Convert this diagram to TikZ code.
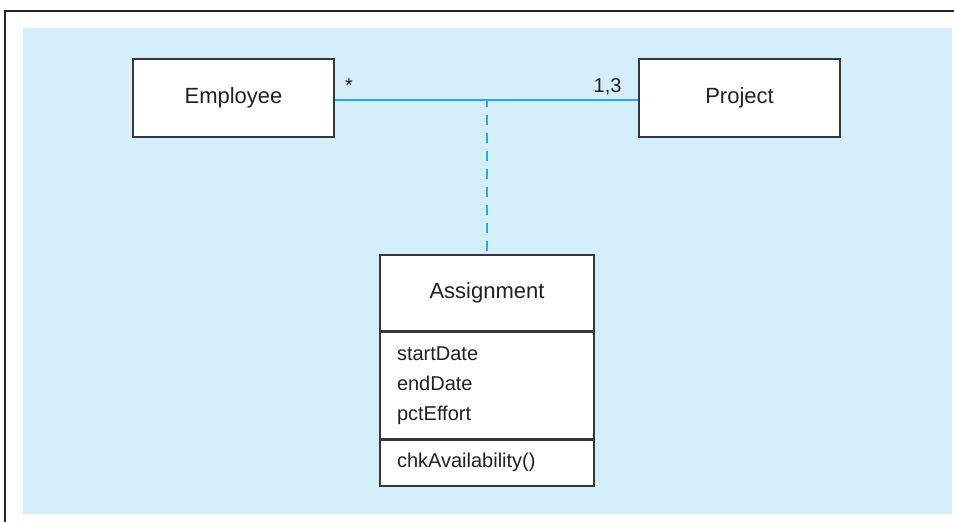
\documentclass[tikz,border=0pt]{standalone}
\usepackage{fontspec}
\setmainfont{Liberation Sans}
\usetikzlibrary{positioning}
\definecolor{panelblue}{RGB}{212,238,250}
\definecolor{linkblue}{RGB}{41,171,226}
\definecolor{boxgray}{RGB}{55,55,55}
\definecolor{textgray}{RGB}{35,31,32}
\begin{document}
\begin{tikzpicture}[x=1pt, y=-1pt, font=\fontsize{22}{26}\selectfont, text=textgray,
  classbox/.style={draw=boxgray, line width=1.5pt, fill=white, minimum width=201pt, minimum height=78pt, inner sep=0pt},
  part/.style={draw=boxgray, line width=1.5pt, fill=white, minimum width=214pt, inner sep=0pt},
  link/.style={draw=linkblue, line width=1.5pt},
  mult/.style={font=\fontsize{20}{24}\selectfont}]
\useasboundingbox (0,0) rectangle (954,522);
\fill[panelblue] (23,28) rectangle (952,514);
\draw[line width=2.5pt, draw=black!85] (954,11) -- (5,11) -- (5,522);
\node[classbox] (employee) at (233.5,98) {Employee};
\node[classbox] (project) at (739.5,98) {Project};
\node[part, anchor=north, minimum height=76pt] (assignhead) at (487,254) {Assignment};
\node[part, anchor=north, minimum height=106pt, text width=180pt, align=left,
  font=\fontsize{20}{30}\selectfont] (assignattr) at (assignhead.south) {startDate\\endDate\\pctEffort};
\node[part, anchor=north, minimum height=46pt, text width=180pt, align=left,
  font=\fontsize{20}{24}\selectfont] (assignops) at (assignattr.south) {chkAvailability()};
\draw[link] ([yshift=-2pt]employee.east) -- ([yshift=-2pt]project.west);
\coordinate (assocmid) at (487,100);
\draw[link, dash pattern=on 10pt off 8pt, dash phase=3pt] (assocmid) -- (assignhead.north);
\node[mult, anchor=base] (emplmult) at (349,92) {*};
\node[mult, anchor=base east] (projmult) at (625,92) {1,3};
\end{tikzpicture}
\end{document}
